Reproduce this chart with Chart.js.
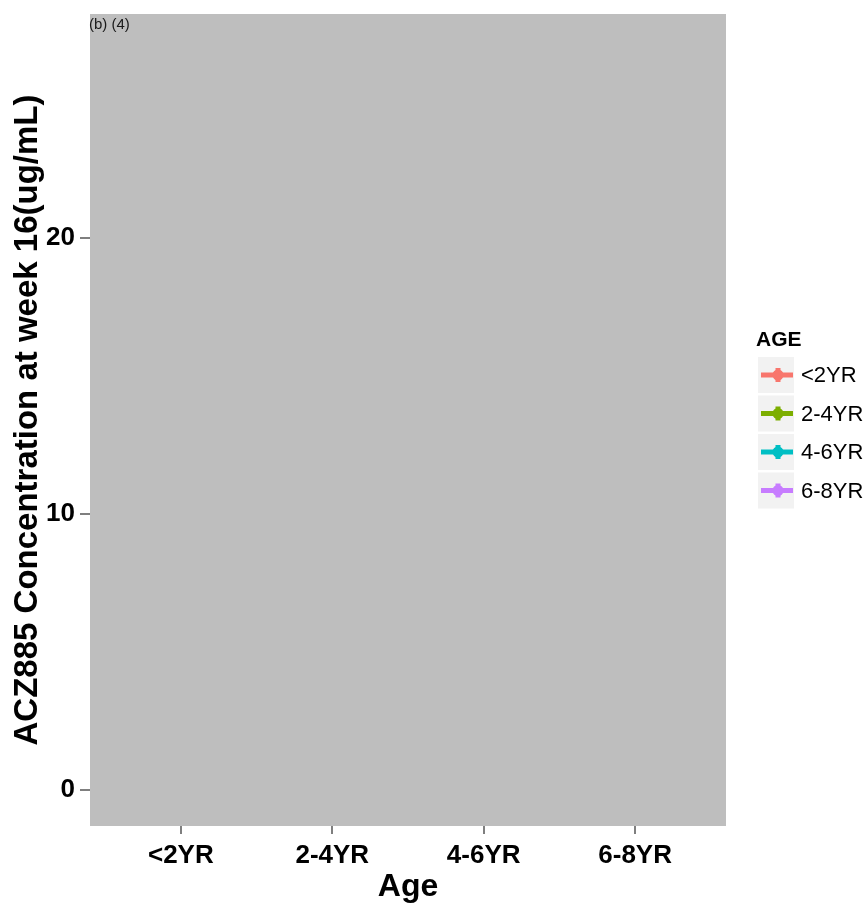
<!DOCTYPE html>
<html lang="en">
<head>
  <meta charset="UTF-8">
  <title>ACZ885 Concentration at week 16</title>
  <script src="https://cdn.jsdelivr.net/npm/chart.js"></script>
  <style>
    body { margin: 0; background: #fff; }
    canvas { display: block; }
  </style>
</head>
<body>
  <canvas id="grafico" width="866" height="904"></canvas>

  <script>
    // categorias e séries (nenhum ponto visível no painel)
    const categorias = ['<2YR', '2-4YR', '4-6YR', '6-8YR'];
    const seriesNomes = ['<2YR', '2-4YR', '4-6YR', '6-8YR'];
    const seriesCores = ['#F8766D', '#7CAE00', '#00BFC4', '#C77CFF'];
    const serieLt2 = [];
    const serie2a4 = [];
    const serie4a6 = [];
    const serie6a8 = [];
    const yTicks = [0, 10, 20];
    const yMin = -1.3, yMax = 28.1;

    const valores = [serieLt2, serie2a4, serie4a6, serie6a8];
    const FONTE = '"Liberation Sans", Arial, sans-serif';

    const fundoPlugin = {
      id: 'fundo',
      beforeDraw(chart) {
        const { ctx, chartArea: a } = chart;
        ctx.save();
        ctx.fillStyle = '#fff';
        ctx.fillRect(0, 0, chart.width, chart.height);
        ctx.fillStyle = '#BEBEBE';
        ctx.fillRect(a.left, a.top, a.right - a.left, a.bottom - a.top);
        ctx.restore();
      },
      afterDraw(chart) {
        const { ctx, chartArea: a } = chart;
        ctx.save();
        ctx.fillStyle = '#1a1a1a';
        ctx.font = '15px ' + FONTE;
        ctx.textBaseline = 'top';
        ctx.fillText('(b) (4)', a.left - 1, a.top + 3);
        ctx.restore();
      }
    };

    const legendaPlugin = {
      id: 'legenda',
      afterDraw(chart) {
        const { ctx } = chart;
        const x0 = 758, y0 = 357, passo = 38.5;
        ctx.save();
        ctx.fillStyle = '#000';
        ctx.font = 'bold 21px ' + FONTE;
        ctx.textBaseline = 'middle';
        ctx.fillText('AGE', 756, 340);
        chart.data.datasets.forEach((ds, i) => {
          const y = y0 + i * passo;
          ctx.fillStyle = '#F2F2F2';
          ctx.fillRect(x0, y, 36, 36);
          const cy = y + 18, cx = x0 + 20;
          ctx.fillStyle = ds.borderColor;
          ctx.fillRect(x0 + 3, cy - 2.5, 32, 5);
          ctx.beginPath();
          ctx.arc(cx, cy, 5.5, 0, Math.PI * 2);
          ctx.fill();
          ctx.fillRect(cx - 2.5, cy - 7, 5, 14);
          ctx.fillStyle = '#000';
          ctx.font = '22px ' + FONTE;
          ctx.fillText(ds.label, x0 + 43, cy + 1);
        });
        ctx.restore();
      }
    };

    const grafico = new Chart(document.getElementById('grafico').getContext('2d'), {
      type: 'line',
      data: {
        datasets: seriesNomes.map((nome, i) => ({
          label: nome,
          data: valores[i],
          borderColor: seriesCores[i],
          backgroundColor: seriesCores[i]
        }))
      },
      options: {
        responsive: false,
        animation: false,
        devicePixelRatio: 1,
        layout: { padding: { left: 8, top: 14, right: 140, bottom: 0 } },
        plugins: { legend: { display: false }, tooltip: { enabled: false } },
        scales: {
          x: {
            type: 'linear',
            min: 0.4,
            max: 4.6,
            afterBuildTicks(s) { s.ticks = categorias.map((c, i) => ({ value: i + 1 })); },
            afterFit(s) { s.height = 78; s.paddingLeft = 0; s.paddingRight = 0; },
            ticks: {
              callback: v => categorias[v - 1],
              color: '#000',
              font: { family: FONTE, size: 26, weight: 'bold' },
              padding: 6,
              maxRotation: 0
            },
            grid: { drawOnChartArea: false, tickLength: 8, tickColor: '#7F7F7F', lineWidth: 2 },
            border: { display: false },
            title: {
              display: true,
              text: 'Age',
              color: '#000',
              font: { family: FONTE, size: 32, weight: 'bold' },
              padding: { top: 0, bottom: -2 }
            }
          },
          y: {
            type: 'linear',
            min: yMin,
            max: yMax,
            afterBuildTicks(s) { s.ticks = yTicks.map(v => ({ value: v })); },
            afterFit(s) { s.width = 82; s.paddingTop = 0; s.paddingBottom = 0; },
            ticks: {
              color: '#000',
              font: { family: FONTE, size: 26, weight: 'bold' },
              padding: 5
            },
            grid: { drawOnChartArea: false, tickLength: 10, tickColor: '#7F7F7F', lineWidth: 2 },
            border: { display: false },
            title: {
              display: true,
              text: 'ACZ885 Concentration at week 16(ug/mL)',
              color: '#000',
              font: { family: FONTE, size: 33, weight: 'bold' },
              padding: { top: 0, bottom: 0 }
            }
          }
        }
      },
      plugins: [fundoPlugin, legendaPlugin]
    });
  </script>
</body>
</html>
